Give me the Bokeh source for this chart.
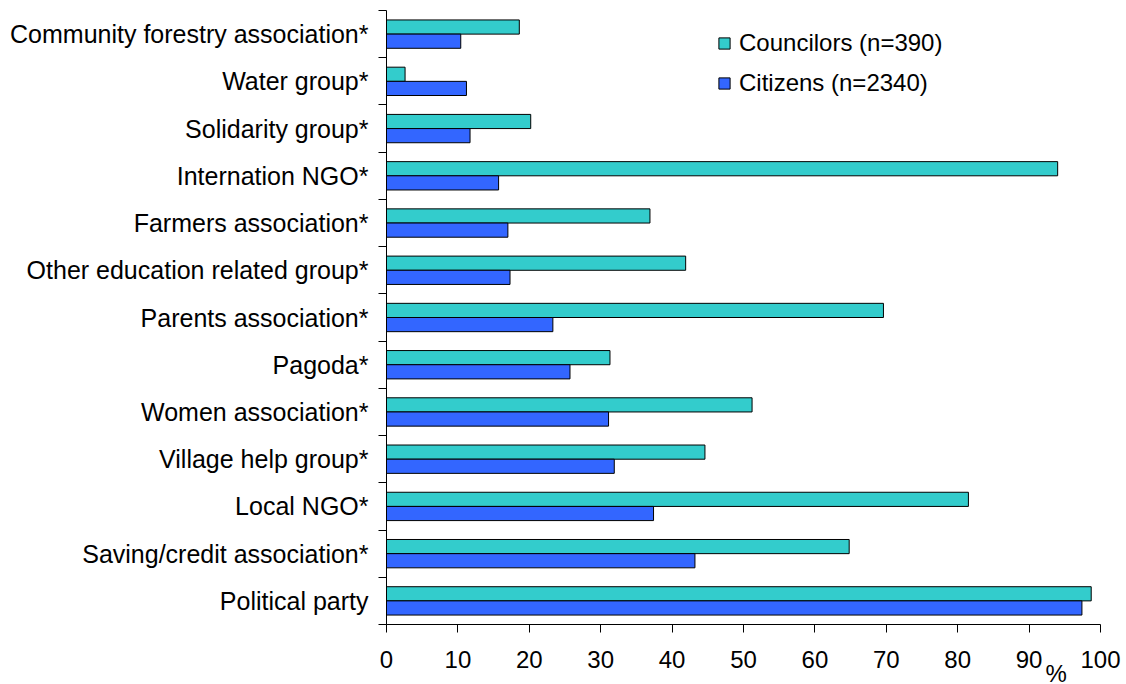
from bokeh.plotting import figure
from bokeh.models import (ColumnDataSource, FixedTicker, Legend, LegendItem, Label,
                          Range1d)
from bokeh.embed import file_html
from bokeh.resources import INLINE

# Membership categories, listed top to bottom
categories = [
    "Community forestry association*",
    "Water group*",
    "Solidarity group*",
    "Internation NGO*",
    "Farmers association*",
    "Other education related group*",
    "Parents association*",
    "Pagoda*",
    "Women association*",
    "Village help group*",
    "Local NGO*",
    "Saving/credit association*",
    "Political party",
]
councilors = [18.6, 2.6, 20.2, 94.0, 36.9, 41.9, 69.6, 31.3, 51.2, 44.6, 81.5, 64.8, 98.7]
citizens = [10.4, 11.2, 11.7, 15.7, 17.0, 17.3, 23.3, 25.7, 31.1, 31.9, 37.4, 43.2, 97.4]
x_ticks = [0, 10, 20, 30, 40, 50, 60, 70, 80, 90, 100]

series_names = ["Councilors (n=390)", "Citizens (n=2340)"]
colors = ["#33CCCC", "#3366FF"]

FONT = "Liberation Sans"
n = len(categories)
# category i (top to bottom) occupies the band [n-1-i, n-i] on the y scale
centers = [n - 1 - i + 0.5 for i in range(n)]

src = ColumnDataSource(dict(
    cat=categories,
    yc=centers,
    y_coun=[c + 0.15 for c in centers],
    y_cit=[c - 0.15 for c in centers],
    coun=councilors,
    cit=citizens,
))

p = figure(width=1126, height=684, output_backend="svg", toolbar_location=None,
           x_range=Range1d(0, 100), y_range=Range1d(0, n),
           min_border_left=386, min_border_right=26, min_border_top=10,
           min_border_bottom=60)
p.outline_line_color = None
p.xgrid.visible = False
p.ygrid.visible = False
p.background_fill_color = "white"
p.border_fill_color = "white"

r1 = p.hbar(y="y_coun", left=0, right="coun", height=0.3, source=src,
            fill_color=colors[0], line_color="black", line_width=1)
r2 = p.hbar(y="y_cit", left=0, right="cit", height=0.3, source=src,
            fill_color=colors[1], line_color="black", line_width=1)

# x axis
xa = p.xaxis[0]
xa.ticker = FixedTicker(ticks=x_ticks)
xa.major_tick_out = 8
xa.major_tick_in = 0
xa.minor_tick_out = 0
xa.minor_tick_in = 0
xa.axis_line_color = "black"
xa.major_tick_line_color = "black"
xa.major_label_text_font = FONT
xa.major_label_text_font_size = "24px"
xa.major_label_text_color = "black"
xa.major_label_standoff = 18

# y axis: labels at category centres, ticks on category boundaries
ya = p.yaxis[0]
ya.ticker = FixedTicker(ticks=centers, minor_ticks=list(range(n + 1)))
ya.major_label_overrides = {c: lab for c, lab in zip(centers, categories)}
ya.major_tick_out = 0
ya.major_tick_in = 0
ya.minor_tick_out = 8
ya.minor_tick_in = 0
ya.minor_tick_line_color = "black"
ya.axis_line_color = "black"
ya.major_label_text_font = FONT
ya.major_label_text_font_size = "25px"
ya.major_label_text_color = "black"
ya.major_label_standoff = 10

legend = Legend(items=[LegendItem(label=series_names[0], renderers=[r1]),
                       LegendItem(label=series_names[1], renderers=[r2])],
                location=(331, 527), orientation="vertical",
                glyph_width=14, glyph_height=14, label_standoff=8,
                spacing=12, padding=0, margin=0,
                border_line_color=None, background_fill_alpha=0,
                label_text_font=FONT, label_text_font_size="24px",
                label_text_color="black")
p.add_layout(legend)

# unit label for the x axis, sitting just under the tick labels near 90-100
pct = Label(x=93.8, y=-1.04, text="%",
            text_font=FONT, text_font_size="24px", text_color="black",
            text_align="center", text_baseline="alphabetic")
p.add_layout(pct, "right")

open("out.html", "w").write(file_html(p, INLINE))
